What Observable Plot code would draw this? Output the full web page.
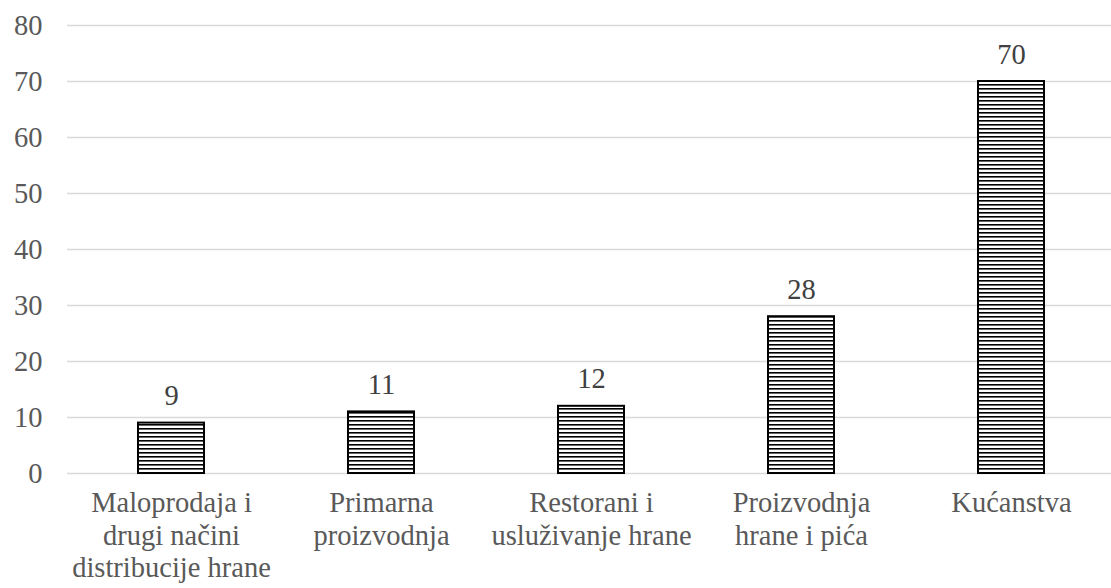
<!DOCTYPE html>
<html>
<head>
<meta charset="utf-8">
<script src="https://cdn.jsdelivr.net/npm/d3@7"></script>
<script src="https://cdn.jsdelivr.net/npm/@observablehq/plot@0.6"></script>
<style>
  html, body { margin: 0; padding: 0; background: #fff; }
  #chart svg { display: block; }
  #chart svg text { font-family: "Liberation Serif", "Times New Roman", serif !important; font-size: 28.5px !important; }
</style>
</head>
<body>
<div id="chart"></div>
<script>
const categories = ["Maloprodaja i\ndrugi načini\ndistribucije hrane", "Primarna\nproizvodnja", "Restorani i\nusluživanje hrane", "Proizvodnja\nhrane i pića", "Kućanstva"];
const values = [9, 11, 12, 28, 70];
const yTicks = [0, 10, 20, 30, 40, 50, 60, 70, 80];

const data = categories.map((c, i) => ({category: c, value: values[i]}));

const chart = Plot.plot({
  width: 1111,
  height: 588,
  marginTop: 25,
  marginBottom: 115,
  marginLeft: 67,
  marginRight: 0,
  style: {background: "#fff", color: "#595959"},
  x: {domain: categories, range: [66, 1116], paddingInner: 0.686, paddingOuter: 0.343, label: null},
  y: {domain: [0, 80], ticks: yTicks, label: null},
  marks: [
    Plot.ruleY(yTicks, {stroke: "#d9d9d9", strokeWidth: 1.5}),
    Plot.barY(data, {x: "category", y: "value", fill: "url(#hstripes)", stroke: "#000", strokeWidth: 2}),
    Plot.text(data, {x: "category", y: "value", text: d => String(d.value), dy: -27, fill: "#404040"}),
    Plot.axisY({ticks: yTicks, tickSize: 0, tickPadding: 25, fill: "#595959", label: null}),
    Plot.axisX({tickSize: 0, tickPadding: 16, fill: "#595959", lineHeight: 1.13, label: null, textAnchor: "middle"})
  ]
});

const svg = d3.select(chart);
const defs = svg.insert("defs", ":first-child");
const pat = defs.append("pattern")
  .attr("id", "hstripes")
  .attr("patternUnits", "userSpaceOnUse")
  .attr("width", 8)
  .attr("height", 4);
pat.append("rect").attr("width", 8).attr("height", 4).attr("fill", "#fff");
pat.append("rect").attr("y", 0).attr("width", 8).attr("height", 1.6).attr("fill", "#000");

document.getElementById("chart").appendChild(chart);
</script>
</body>
</html>
